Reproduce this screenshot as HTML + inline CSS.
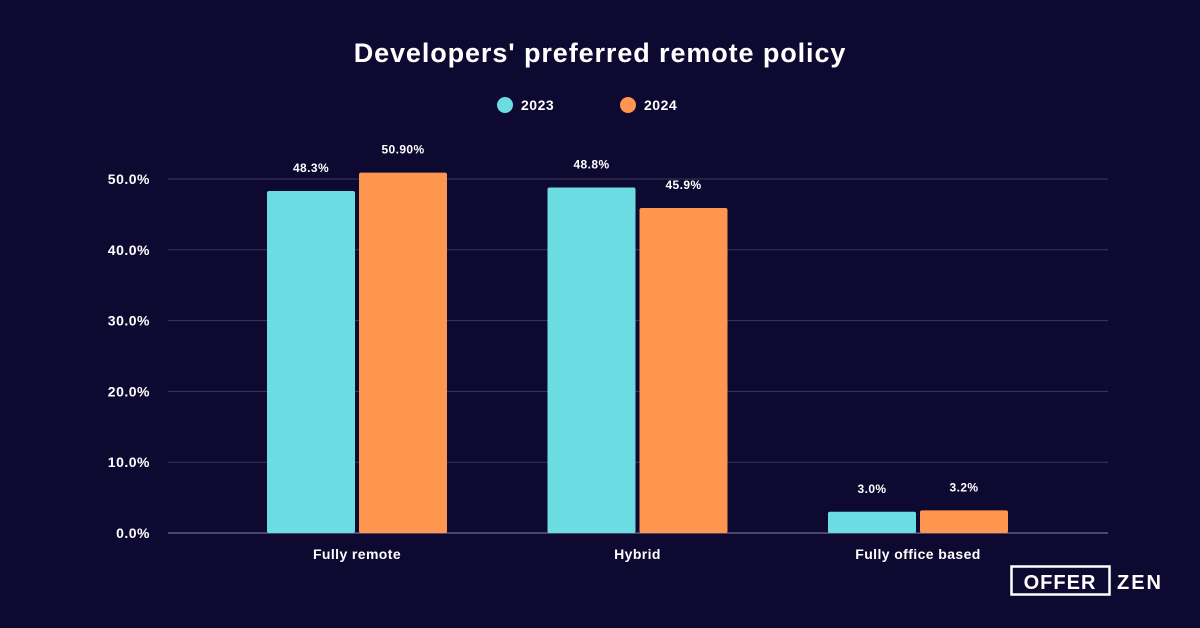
<!DOCTYPE html>
<html><head><meta charset="utf-8"><style>
html,body{margin:0;padding:0;background:#0d0930;}
svg{display:block;font-family:"Liberation Sans",sans-serif;}
</style></head><body>
<svg width="1200" height="628" viewBox="0 0 1200 628">
<rect width="1200" height="628" fill="#0d0930"/>
<text x="600" y="62" text-anchor="middle" fill="#fff" font-size="27" font-weight="bold" letter-spacing="0.9">Developers' preferred remote policy</text>
<g>
<g><circle cx="505" cy="105" r="8" fill="#6cdce3"/><text x="521" y="110" fill="#fff" font-size="14" font-weight="bold" letter-spacing="0.5">2023</text></g>
<g><circle cx="628" cy="105" r="8" fill="#ff9650"/><text x="644" y="110" fill="#fff" font-size="14" font-weight="bold" letter-spacing="0.5">2024</text></g>
</g>
<g id="grid"></g><g id="bars"></g><g id="xl"></g>
<g>
<rect x="1011.5" y="566.5" width="98" height="28" fill="none" stroke="#fff" stroke-width="2.5"/>
<text x="1060" y="589" text-anchor="middle" fill="#fff" font-size="20" font-weight="bold" letter-spacing="1">OFFER</text>
<text x="1117" y="589" fill="#fff" font-size="20" font-weight="bold" letter-spacing="2">ZEN</text>
</g>
</svg>
<script>
const categories=["Fully remote","Hybrid","Fully office based"];
const values2023=[48.3,48.8,3.0];
const values2024=[50.9,45.9,3.2];
const labels2023=["48.3%","48.8%","3.0%"];
const labels2024=["50.90%","45.9%","3.2%"];
const ticks=[0,10,20,30,40,50];
const NS="http://www.w3.org/2000/svg";
const y=v=>533-v*7.08;
const xc=i=>357+i*280.5;
function mk(t,a,p){const e=document.createElementNS(NS,t);for(const k in a)e.setAttribute(k,a[k]);p.appendChild(e);return e;}
const grid=document.getElementById('grid'),bars=document.getElementById('bars'),xl=document.getElementById('xl');
ticks.forEach(t=>{
 const l=mk('line',{x1:168,x2:1108,y1:y(t),y2:y(t),stroke:t===0?'#8a88a8':'#3b3960','stroke-width':1},grid);
 
 
 const tx=mk('text',{x:150,y:y(t)+5,'text-anchor':'end',fill:'#fff','font-size':14,'font-weight':'bold','letter-spacing':0.5},grid);
 tx.textContent=t.toFixed(1)+'%';
 
 
});
categories.forEach((c,i)=>{
 [[values2023,labels2023,'#6cdce3',-90],[values2024,labels2024,'#ff9650',2]].forEach(([vals,labs,col,off],s)=>{
  const v=vals[i];
  const r=mk('rect',{x:xc(i)+off,y:y(v),width:88,height:533-y(v),fill:col,rx:2},bars);
  
  
  const t=mk('text',{x:xc(i)+off+44,y:y(v)-19,'text-anchor':'middle',fill:'#fff','font-size':12,'font-weight':'bold','letter-spacing':0.4},bars);
  t.textContent=labs[i];
  
  
 });
 const t=mk('text',{x:xc(i),y:559,'text-anchor':'middle',fill:'#fff','font-size':14,'font-weight':'bold','letter-spacing':0.4},xl);
 t.textContent=c;
 
 
});
</script>
</body></html>
